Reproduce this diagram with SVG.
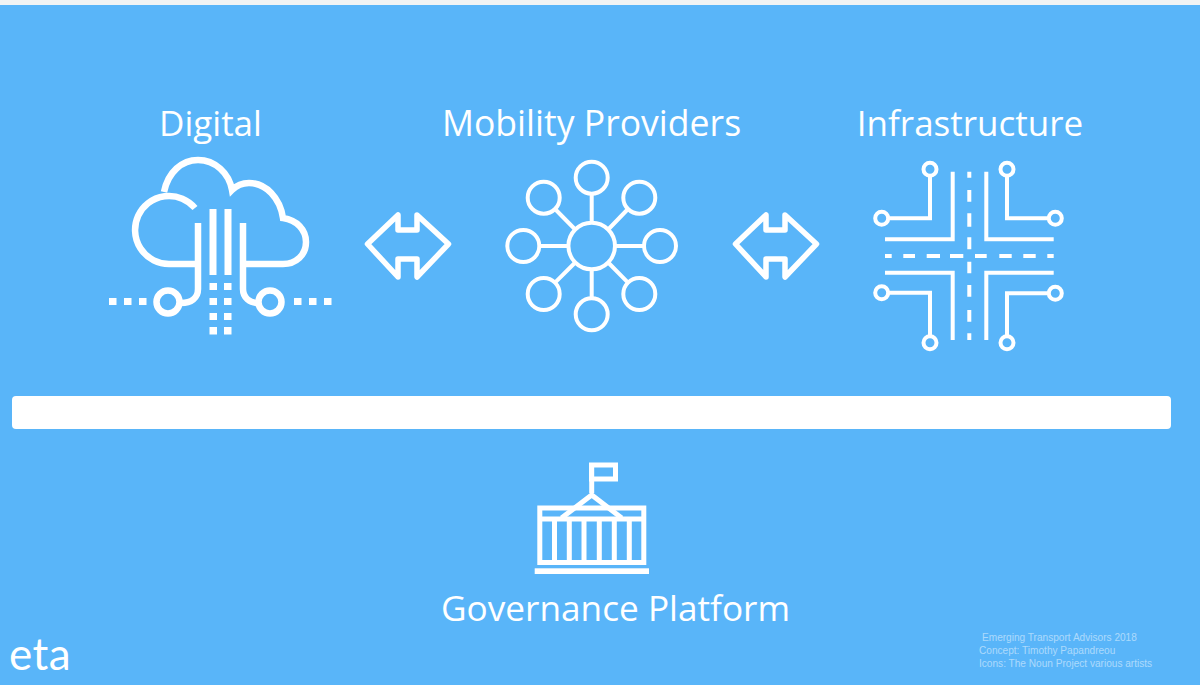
<svg xmlns="http://www.w3.org/2000/svg" width="1200" height="685" viewBox="0 0 1200 685">
<style>
.l{fill:none;stroke:#fff;stroke-linejoin:miter}
.t{fill:#fff;font-family:"Open Sans","Noto Sans",sans-serif;font-size:35px;text-anchor:middle}
.f{fill:#fff;fill-opacity:.5;font-family:"Liberation Sans",Arial,sans-serif;font-size:10.1px}
.s{fill:#fff}
</style>
<defs>
<path id="arrow" d="M367.500 244L398 215V230H417V215L448.500 244L417 277V259H398V277Z" fill="none" stroke="#fff" stroke-width="5.500" stroke-linejoin="round"/>
</defs>
<rect width="1200" height="685" fill="#59b5f9"/>
<rect width="1200" height="5" fill="#f1f3f4"/>
<g id="digital">
<text class="t" x="210.500" y="135.500">Digital</text>
<g class="l" stroke-width="6.500">
<path d="M195 208A34 34 0 1 0 169 264H196"/>
<path d="M164 192C168 172 182 160 198 160C215 160 229 173 232 190C238 184 244 183 249 183C266 183 280 198 283 218C297 220 306 230 306 242C306 255 296 264 283 264H243"/>
<path d="M198 223V289C198 298 191 303 181 303"/>
<path d="M243 223V289C243 298 250 303 258 303"/>
<path d="M213 209V275M228 209V275" stroke-width="7"/>
<circle cx="168" cy="302" r="11.500"/>
<circle cx="270" cy="302" r="11.500"/>
</g>
<g class="s">
<rect x="209.500" y="283" width="7.500" height="7"/><rect x="224" y="283" width="7.500" height="7"/>
<rect x="209.500" y="298" width="7.500" height="7"/><rect x="224" y="298" width="7.500" height="7"/>
<rect x="209.500" y="313" width="7.500" height="7"/><rect x="224" y="313" width="7.500" height="7"/>
<rect x="209.500" y="327" width="7.500" height="7.500"/><rect x="224" y="327" width="7.500" height="7.500"/>
<rect x="109" y="298" width="7.500" height="7"/><rect x="124" y="298" width="7.500" height="7"/><rect x="139" y="298" width="7.500" height="7"/>
<rect x="294" y="298" width="7.500" height="7"/><rect x="309" y="298" width="7.500" height="7"/><rect x="324" y="298" width="7.500" height="7"/>
</g>
</g>
<g id="connectors">
<use href="#arrow"/>
<use href="#arrow" x="368"/>
</g>
<g id="mobility">
<text class="t" x="591.500" y="135.500" style="font-size:35.600px">Mobility Providers</text>
<g class="l" stroke-width="4">
<circle cx="591.700" cy="246" r="23.300"/>
<circle cx="591.700" cy="177.700" r="16"/>
<circle cx="591.700" cy="314.300" r="16"/>
<circle cx="523.300" cy="246" r="16"/>
<circle cx="660" cy="246" r="16"/>
<circle cx="543.700" cy="197.700" r="16"/>
<circle cx="639.300" cy="197.700" r="16"/>
<circle cx="543.700" cy="294" r="16"/>
<circle cx="639.300" cy="294" r="16"/>
<path d="M591.700 193.700V222.700M591.700 269.300V298.300M539.300 246H568.400M615 246H644M555 209L575.200 229.500M628 209L608.200 229.500M555 282.700L575.200 262.500M628 282.700L608.200 262.500"/>
</g>
</g>
<g id="infrastructure">
<text class="t" x="970" y="135.500">Infrastructure</text>
<g class="l" stroke-width="4">
<circle cx="930" cy="169.300" r="6.500"/>
<circle cx="1007" cy="169.300" r="6.500"/>
<circle cx="881.700" cy="218.300" r="6.500"/>
<circle cx="1055.300" cy="218.300" r="6.500"/>
<circle cx="881.700" cy="292.700" r="6.500"/>
<circle cx="1055.300" cy="293.300" r="6.500"/>
<circle cx="930" cy="342.700" r="6.500"/>
<circle cx="1007" cy="342.700" r="6.500"/>
<path d="M930 176V218.300H888"/>
<path d="M1007 176V218.300H1049"/>
<path d="M888 292.700H930V336"/>
<path d="M1049 293.300H1007V336"/>
<path d="M952.700 171.700V239.300H885"/>
<path d="M986.300 171.700V239.300H1053.700"/>
<path d="M885 272.700H952.700V340"/>
<path d="M1053.700 272.700H986.300V340"/>
<path d="M969.300 171.700V177.700M969.300 190V201.700M969.300 213.300V226.700M969.300 237.300V249.300M969.300 261.700V273.300M969.300 285V296.700M969.300 310V321.700M969.300 333.300V340"/>
<path d="M885 256H891.700M903.300 256H915M926.700 256H940M950 256H963.300M975 256H986.700M999.300 256H1011.700M1023.300 256H1035.700M1047.300 256H1053.700"/>
</g>
</g>
<rect id="divider" x="12" y="396" width="1159" height="33" rx="4" fill="#fff"/>
<g id="governance">
<g class="l" stroke-width="5">
<rect x="591.500" y="465" width="24" height="14"/>
<path d="M591.700 465V493"/>
<path d="M561.500 518L591.700 495L621.700 518"/>
<rect x="539.800" y="508" width="104" height="54.500"/>
<path d="M540 519H643.500M554.500 519V562M569.300 519V562M584 519V562M599.300 519V562M614.300 519V562M629.300 519V562"/>
</g>
<rect class="s" x="534.700" y="568.300" width="114.300" height="5.700"/>
<text class="t" x="615.500" y="620.500" style="font-size:35.200px">Governance Platform</text>
</g>
<g id="logo">
<text x="9" y="670" fill="#fff" font-family="Lato,'Open Sans',sans-serif" font-size="44px" letter-spacing="0.500">eta</text>
</g>
<g id="credits">
<text class="f" x="982" y="641">Emerging Transport Advisors 2018</text>
<text class="f" x="979" y="654">Concept: Timothy Papandreou</text>
<text class="f" x="979" y="667">Icons: The Noun Project various artists</text>
</g>
</svg>
